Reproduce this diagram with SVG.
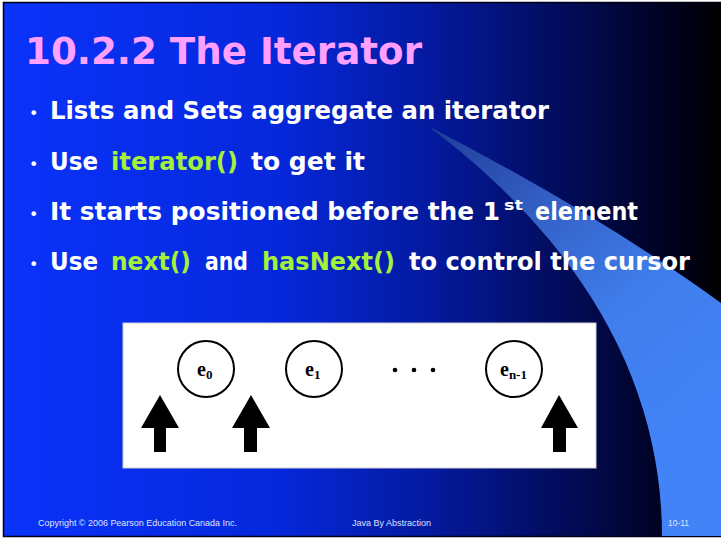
<svg xmlns="http://www.w3.org/2000/svg" width="721" height="539" viewBox="0 0 721 539">
<defs>
<linearGradient id="bg" x1="0" y1="0" x2="1" y2="0">
<stop offset="0" stop-color="#0a33fa"/>
<stop offset="0.38" stop-color="#0628dc"/>
<stop offset="0.6" stop-color="#04199c"/>
<stop offset="0.8" stop-color="#020a52"/>
<stop offset="0.94" stop-color="#000118"/>
<stop offset="1" stop-color="#000000"/>
</linearGradient>
<linearGradient id="swoosh" gradientUnits="userSpaceOnUse" x1="428" y1="126" x2="690" y2="430">
<stop offset="0" stop-color="#1f3c98"/>
<stop offset="0.35" stop-color="#3461c6"/>
<stop offset="0.65" stop-color="#3f7deb"/>
<stop offset="1" stop-color="#4383f8"/>
</linearGradient>
<style>
.bul{font-family:"DejaVu Sans","Liberation Sans",sans-serif;font-weight:bold;font-size:24px;fill:#ffffff}
.sup{font-size:14px}
.grn{fill:#a4f03c}
.dot{font-family:"DejaVu Sans",sans-serif;font-size:16px;fill:#ffffff}
.foot{font-family:"Liberation Sans",Arial,sans-serif;font-size:9px;fill:#dfe4ff}
.node circle{fill:none;stroke:#000;stroke-width:2}
.lbl{font-family:"Liberation Serif","Times New Roman",serif;font-weight:bold;font-size:20px;fill:#000}
.sub{font-size:13px}
.arrow{fill:#000}
</style>
</defs>
<rect x="0" y="0" width="721" height="539" fill="#ffffff"/>
<rect x="3.5" y="2.5" width="719" height="534" fill="url(#bg)" stroke="#000010" stroke-width="1.5"/>
<path d="M428,126 Q600,215 721,303 L721,536 L662,536 C662,380 580,240 428,126 Z" fill="url(#swoosh)"/>

<text x="25" y="64" font-family="DejaVu Sans,Liberation Sans,sans-serif" font-weight="bold" font-size="38" fill="#ffa0ff" textLength="397" lengthAdjust="spacingAndGlyphs">10.2.2 The Iterator</text>

<g id="bullets">
<text class="dot" x="29" y="119">•</text>
<text class="bul" x="50" y="119" textLength="499" lengthAdjust="spacingAndGlyphs">Lists and Sets aggregate an iterator</text>

<text class="dot" x="29" y="170">•</text>
<text class="bul" x="50" y="170" textLength="48" lengthAdjust="spacingAndGlyphs">Use</text>
<text class="bul grn" x="111" y="170" textLength="127" lengthAdjust="spacingAndGlyphs">iterator()</text>
<text class="bul" x="251" y="170" textLength="114" lengthAdjust="spacingAndGlyphs">to get it</text>

<text class="dot" x="29" y="220">•</text>
<text class="bul" x="50" y="220" textLength="450" lengthAdjust="spacingAndGlyphs">It starts positioned before the 1</text>
<text class="bul sup" x="504" y="210" textLength="19" lengthAdjust="spacingAndGlyphs">st</text>
<text class="bul" x="535" y="220" textLength="103" lengthAdjust="spacingAndGlyphs">element</text>

<text class="dot" x="29" y="270">•</text>
<text class="bul" x="50" y="270" textLength="48" lengthAdjust="spacingAndGlyphs">Use</text>
<text class="bul grn" x="111" y="270" textLength="80" lengthAdjust="spacingAndGlyphs">next()</text>
<text class="bul" x="205" y="270" textLength="43" lengthAdjust="spacingAndGlyphs">and</text>
<text class="bul grn" x="262" y="270" textLength="133" lengthAdjust="spacingAndGlyphs">hasNext()</text>
<text class="bul" x="409" y="270" textLength="281" lengthAdjust="spacingAndGlyphs">to control the cursor</text>
</g>

<rect x="123" y="323" width="473" height="145" fill="#ffffff" stroke="#d0d0d0" stroke-width="1"/>

<g id="e0" class="node">
<circle cx="206" cy="369" r="28"/>
<text class="lbl" x="197" y="376">e<tspan class="sub" dy="3">0</tspan></text>
</g>
<g id="e1" class="node">
<circle cx="314" cy="369" r="28"/>
<text class="lbl" x="305" y="376">e<tspan class="sub" dy="3">1</tspan></text>
</g>
<g id="ellipsis">
<circle cx="395" cy="370" r="2.3" fill="#000"/>
<circle cx="414" cy="370" r="2.3" fill="#000"/>
<circle cx="433" cy="370" r="2.3" fill="#000"/>
</g>
<g id="en-1" class="node">
<circle cx="514" cy="369" r="28"/>
<text class="lbl" x="500" y="376">e<tspan class="sub" dy="3">n-1</tspan></text>
</g>

<g id="cursors">
<polygon class="arrow" points="160,395 179,428 166,428 166,452 154,452 154,428 141,428"/>
<polygon class="arrow" points="251,395 270,428 257,428 257,452 244,452 244,428 232,428"/>
<polygon class="arrow" points="559,395 578,428 566,428 566,452 553,452 553,428 541,428"/>
</g>

<g id="footer">
<text class="foot" x="38" y="526" textLength="199" lengthAdjust="spacingAndGlyphs">Copyright © 2006 Pearson Education Canada Inc.</text>
<text class="foot" x="352" y="526" textLength="79" lengthAdjust="spacingAndGlyphs">Java By Abstraction</text>
<text class="foot" x="668" y="526" textLength="21" lengthAdjust="spacingAndGlyphs">10-11</text>
</g>
</svg>
